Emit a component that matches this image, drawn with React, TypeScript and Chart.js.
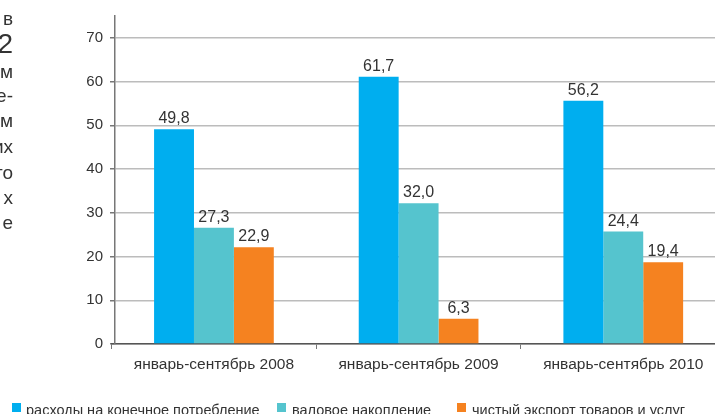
import React, { useEffect, useRef } from "react";
import { Chart, registerables } from "chart.js";

Chart.register(...registerables);

const categories = ["январь-сентябрь 2008", "январь-сентябрь 2009", "январь-сентябрь 2010"];
const seriesNames = ["расходы на конечное потребление", "валовое накопление", "чистый экспорт товаров и услуг"];
const seriesColors = ["#00AEEF", "#55C4CE", "#F58220"];
// bar heights as drawn in the picture
const consumption = [49.1, 61.1, 55.6];
const accumulation = [26.6, 32.2, 25.7];
const netExport = [22.1, 5.75, 18.7];
// value labels as printed
const consumptionLabels = ["49,8", "61,7", "56,2"];
const accumulationLabels = ["27,3", "32,0", "24,4"];
const netExportLabels = ["22,9", "6,3", "19,4"];
const yTicks = [0, 10, 20, 30, 40, 50, 60, 70];
const sideText = ["в", "2", "м", "е-", "м", "их", "то", "х", "е"];
const sideTop = [9, 30, 62, 86, 111, 137, 163, 188, 213];
const sideSize = [19, 28, 19, 19, 19, 19, 19, 19, 19];

const FONT = "'Liberation Sans', Arial, Helvetica, sans-serif";

const valueLabelPlugin = {
  id: "valueLabels",
  afterDatasetsDraw(chart: any) {
    const ctx = chart.ctx;
    const labelSets = [consumptionLabels, accumulationLabels, netExportLabels];
    ctx.save();
    ctx.font = `16px ${FONT}`;
    ctx.fillStyle = "#333333";
    ctx.textAlign = "center";
    ctx.textBaseline = "alphabetic";
    chart.data.datasets.forEach((_ds: any, di: number) => {
      const meta = chart.getDatasetMeta(di);
      meta.data.forEach((bar: any, i: number) => {
        ctx.fillText(labelSets[di][i], bar.x, bar.y - 6);
      });
    });
    ctx.restore();
  },
};

// the category axis in the picture starts a little left of the value axis line
const shiftCategoryAxis = {
  id: "shiftCategoryAxis",
  afterLayout(chart: any) {
    const x = chart.scales.x;
    x.left -= 3.4;
    x.right -= 3.4;
    x.configure();
  },
};

export default function App() {
  const ref = useRef<HTMLCanvasElement | null>(null);

  useEffect(() => {
    if (!ref.current) return;
    const chart = new Chart(ref.current, {
      type: "bar",
      data: {
        labels: categories,
        datasets: [
          { label: seriesNames[0], data: consumption, backgroundColor: seriesColors[0] },
          { label: seriesNames[1], data: accumulation, backgroundColor: seriesColors[1] },
          { label: seriesNames[2], data: netExport, backgroundColor: seriesColors[2] },
        ],
      },
      options: {
        responsive: false,
        animation: false,
        devicePixelRatio: 1,
        layout: { padding: { top: 14, right: 11, bottom: 0, left: 0 } },
        datasets: { bar: { barPercentage: 1, categoryPercentage: 0.585 } },
        plugins: { legend: { display: false }, tooltip: { enabled: false } },
        scales: {
          x: {
            afterFit: (s: any) => {
              s.height = 70;
            },
            grid: { drawOnChartArea: false, drawTicks: true, tickLength: 5, color: "#777", offset: true },
            border: { display: true, color: "#555", width: 1.5 },
            ticks: { color: "#333", font: { family: FONT, size: 15.5 }, padding: 6, maxRotation: 0 },
          },
          y: {
            min: 0,
            max: 75,
            afterFit: (s: any) => {
              s.width = 115;
            },
            afterBuildTicks: (s: any) => {
              s.ticks = yTicks.map((v) => ({ value: v }));
            },
            grid: { color: "#bcbcbc", lineWidth: 1.5, tickLength: 5, tickColor: "#777" },
            border: { display: true, color: "#777", width: 1.5 },
            ticks: { color: "#333", font: { family: FONT, size: 15 }, padding: 7, stepSize: 10 },
          },
        },
      },
      plugins: [shiftCategoryAxis, valueLabelPlugin],
    } as any);
    return () => chart.destroy();
  }, []);

  const legendSquares = [12, 277, 457];
  const legendText = [26, 292, 472];

  return (
    <div
      style={{
        position: "fixed",
        left: 0,
        top: 0,
        width: 715,
        height: 414,
        overflow: "hidden",
        background: "#fff",
        fontFamily: FONT,
        color: "#333",
      }}
    >
      <canvas
        ref={ref}
        width={740}
        height={414}
        style={{ position: "absolute", left: 0, top: 0, width: 740, height: 414 }}
      />
      {sideText.map((t, i) => (
        <div
          key={"s" + i}
          style={{
            position: "absolute",
            right: 715 - 13,
            top: sideTop[i],
            fontSize: sideSize[i],
            lineHeight: `${sideSize[i]}px`,
            whiteSpace: "nowrap",
            textAlign: "right",
          }}
        >
          {t}
        </div>
      ))}
      {seriesNames.map((n, i) => (
        <React.Fragment key={"l" + i}>
          <div
            style={{
              position: "absolute",
              left: legendSquares[i],
              top: 403,
              width: 9,
              height: 9,
              background: seriesColors[i],
            }}
          />
          <div
            style={{
              position: "absolute",
              left: legendText[i],
              top: 403,
              fontSize: 14.5,
              lineHeight: "15px",
              whiteSpace: "nowrap",
            }}
          >
            {n}
          </div>
        </React.Fragment>
      ))}
    </div>
  );
}
